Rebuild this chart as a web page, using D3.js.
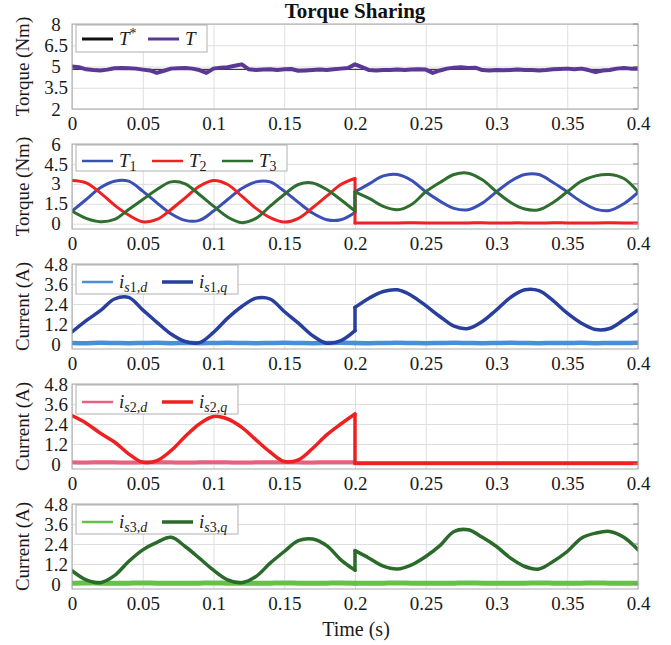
<!DOCTYPE html>
<html>
<head>
<meta charset="utf-8">
<script src="https://cdn.jsdelivr.net/npm/d3@7"></script>
<style>
  body { margin: 0; background: #fff; }
  svg text { font-family: "Liberation Serif", "Times New Roman", serif; }
</style>
</head>
<body>
<div id="chart"></div>
<script>
// sample times (0.01 s grid, the jump at 0.2 s appears twice)
const tGrid = [0, 0.01, 0.02, 0.03, 0.04, 0.05, 0.06, 0.07, 0.08, 0.09, 0.1, 0.11, 0.12, 0.13, 0.14, 0.15, 0.16, 0.17, 0.18, 0.19, 0.2,
  0.2, 0.21, 0.22, 0.23, 0.24, 0.25, 0.26, 0.27, 0.28, 0.29, 0.3, 0.31, 0.32, 0.33, 0.34, 0.35, 0.36, 0.37, 0.38, 0.39, 0.4]
const tFine = d3.range(81).map(i => +(i * 0.005).toFixed(3))

const xTicks = [0, 0.05, 0.1, 0.15, 0.2, 0.25, 0.3, 0.35, 0.4]
const torqueTicks = [2, 3.5, 5, 6.5, 8]
const phaseTorqueTicks = [0, 1.5, 3, 4.5, 6]
const currentTicks = [0, 1.2, 2.4, 3.6, 4.8]

// total torque
const torqueRefTime = [0, 0.4]
const torqueRef = [4.8, 4.8]
const torque = [5.0, 4.95, 4.8, 4.75, 4.72, 4.78, 4.88, 4.9, 4.88, 4.85, 4.78, 4.72, 4.55, 4.7, 4.85, 4.88, 4.9, 4.85, 4.75, 4.55,
  4.85, 4.92, 4.95, 5.05, 5.15, 4.8, 4.75, 4.78, 4.8, 4.75, 4.8, 4.82, 4.7, 4.72, 4.75, 4.78, 4.75, 4.8, 4.85, 4.9,
  5.15, 4.95, 4.75, 4.72, 4.75, 4.75, 4.78, 4.75, 4.78, 4.8, 4.78, 4.55, 4.72, 4.85, 4.92, 4.95, 4.9, 4.92, 4.75, 4.72,
  4.75, 4.73, 4.75, 4.78, 4.75, 4.75, 4.72, 4.75, 4.8, 4.82, 4.85, 4.8, 4.85, 4.75, 4.6, 4.72, 4.75, 4.85, 4.9, 4.85, 4.85]

// phase torques
const torqueT1 = [0.95, 1.82, 2.7, 3.2, 3.2, 2.45, 1.57, 0.75, 0.25, 0.25, 0.95, 1.82, 2.65, 3.15, 3.15, 2.45, 1.6, 0.8, 0.3, 0.3, 0.85,
  2.4, 3.0, 3.6, 3.7, 3.25, 2.4, 1.7, 1.15, 1.05, 1.55, 2.4, 3.2, 3.7, 3.7, 3.1, 2.4, 1.65, 1.1, 1.0, 1.5, 2.35]
const torqueT2 = [3.25, 3.07, 2.32, 1.4, 0.65, 0.15, 0.32, 1.07, 1.95, 2.82, 3.25, 2.95, 2.07, 1.15, 0.45, 0.12, 0.4, 1.2, 2.07, 2.95, 3.4,
  0.06, 0.06, 0.05, 0.06, 0.07, 0.06, 0.05, 0.06, 0.06, 0.07, 0.05, 0.06, 0.06, 0.05, 0.07, 0.06, 0.05, 0.06, 0.07, 0.06, 0.06]
const torqueT3 = [0.95, 0.4, 0.15, 0.32, 1.07, 1.82, 2.57, 3.15, 3.0, 2.2, 1.32, 0.5, 0.08, 0.4, 1.32, 2.2, 2.95, 3.07, 2.57, 1.8, 0.95,
  2.4, 1.9, 1.3, 1.05, 1.45, 2.4, 3.1, 3.7, 3.8, 3.3, 2.4, 1.6, 1.1, 1.05, 1.6, 2.4, 3.2, 3.6, 3.7, 3.4, 2.4]

// phase currents
const is1d = [0.06, 0.05, 0.07, 0.06, 0.05, 0.06, 0.07, 0.05, 0.06, 0.05, 0.06, 0.07, 0.06, 0.05, 0.06, 0.07, 0.06, 0.05, 0.06, 0.07, 0.06,
  0.06, 0.05, 0.06, 0.07, 0.06, 0.05, 0.06, 0.07, 0.06, 0.05, 0.06, 0.07, 0.06, 0.05, 0.06, 0.06, 0.07, 0.05, 0.06, 0.06, 0.07]
const is1q = [0.72, 1.4, 2.0, 2.7, 2.8, 2.05, 1.3, 0.6, 0.15, 0.08, 0.7, 1.55, 2.25, 2.75, 2.7, 1.95, 1.25, 0.5, 0.05, 0.2, 0.8,
  2.2, 2.75, 3.15, 3.25, 2.9, 2.3, 1.65, 1.07, 0.93, 1.35, 2.05, 2.8, 3.25, 3.2, 2.6, 1.85, 1.25, 0.87, 0.93, 1.45, 2.05]
const is2d = [0.1, 0.09, 0.11, 0.1, 0.09, 0.1, 0.11, 0.1, 0.09, 0.1, 0.11, 0.1, 0.09, 0.1, 0.11, 0.1, 0.1, 0.09, 0.11, 0.1, 0.1,
  0.04, 0.04, 0.05, 0.04, 0.04, 0.05, 0.04, 0.04, 0.05, 0.04, 0.04, 0.04, 0.05, 0.04, 0.04, 0.05, 0.04, 0.04, 0.05, 0.04, 0.04]
const is2q = [2.9, 2.45, 1.85, 1.32, 0.61, 0.1, 0.2, 0.8, 1.65, 2.4, 2.85, 2.7, 2.2, 1.45, 0.72, 0.15, 0.25, 0.93, 1.75, 2.4, 3.0,
  0.04, 0.04, 0.05, 0.04, 0.04, 0.05, 0.04, 0.04, 0.05, 0.04, 0.04, 0.04, 0.05, 0.04, 0.04, 0.05, 0.04, 0.04, 0.05, 0.04, 0.04]
const is3d = [0.05, 0.06, 0.05, 0.04, 0.05, 0.06, 0.05, 0.05, 0.04, 0.05, 0.06, 0.05, 0.05, 0.04, 0.05, 0.06, 0.05, 0.04, 0.05, 0.06, 0.05,
  0.05, 0.04, 0.05, 0.06, 0.05, 0.05, 0.04, 0.05, 0.06, 0.05, 0.04, 0.05, 0.05, 0.06, 0.05, 0.04, 0.05, 0.06, 0.05, 0.05, 0.04]
const is3q = [0.8, 0.25, 0.08, 0.5, 1.35, 2.05, 2.5, 2.8, 2.25, 1.55, 0.83, 0.25, 0.08, 0.45, 1.25, 1.95, 2.6, 2.7, 2.3, 1.45, 0.83,
  2.0, 1.55, 1.07, 0.9, 1.15, 1.65, 2.3, 3.15, 3.25, 2.8, 2.25, 1.55, 1.05, 0.9, 1.35, 1.95, 2.75, 3.05, 3.15, 2.8, 2.05]

const font = '"Liberation Serif", "Times New Roman", serif'
const width = 671
const height = 645
const left = 72
const right = 638
const panelH = 85

// legend label pieces: i = italic, sub / sup = script
const T = (s) => ({ t: s, i: true })
const panels = [
  { top: 24, domain: [2, 8], ticks: torqueTicks, label: 'Torque (Nm)',
    series: [
      { t: torqueRefTime, v: torqueRef, color: '#111111', w: 1 },
      { t: tFine, v: torque, color: '#5b3896', w: 4 }
    ],
    legend: { w: 131, h: 27, ly: 14, items: [
      { x: 6, color: '#111111', w: 3, parts: [T('T'), { t: '*', sup: true }] },
      { x: 72, color: '#5b3896', w: 3, parts: [T('T')] }
    ] } },
  { top: 144, domain: [-0.4, 6], ticks: phaseTorqueTicks, label: 'Torque (Nm)',
    series: [
      { t: tGrid, v: torqueT1, color: '#3a50b4', w: 3, jump: true },
      { t: tGrid, v: torqueT2, color: '#ee2222', w: 3, jump: true },
      { t: tGrid, v: torqueT3, color: '#2e6e2e', w: 3, jump: true }
    ],
    legend: { w: 211, h: 26, ly: 16, items: [
      { x: 6, color: '#3a50b4', w: 2.5, parts: [T('T'), { t: '1', sub: true }] },
      { x: 76, color: '#ee2222', w: 2.5, parts: [T('T'), { t: '2', sub: true }] },
      { x: 146, color: '#2e6e2e', w: 2.5, parts: [T('T'), { t: '3', sub: true }] }
    ] } }
]
const currentSets = [
  { top: 264, d: is1d, q: is1q, n: '1', cd: '#4a8ed8', cq: '#283f9e', wd: 4.5 },
  { top: 384, d: is2d, q: is2q, n: '2', cd: '#e8607f', cq: '#ee2020', wd: 4 },
  { top: 504, d: is3d, q: is3q, n: '3', cd: '#66c04a', cq: '#2a6a2a', wd: 5 }
]
currentSets.forEach(c => {
  panels.push({ top: c.top, domain: [-0.3, 4.8], ticks: currentTicks, label: 'Current (A)',
    series: [
      { t: tGrid, v: c.d, color: c.cd, w: c.wd, jump: true },
      { t: tGrid, v: c.q, color: c.cq, w: 3.5, jump: true }
    ],
    legend: { w: 162, h: 29, ly: 17, items: [
      { x: 6, color: c.cd, w: 2.5, parts: [T('i'), { t: 's', sub: true, i: true }, { t: c.n, sub: true }, { t: ',d', sub: true, i: true }] },
      { x: 86, color: c.cq, w: 3.5, parts: [T('i'), { t: 's', sub: true, i: true }, { t: c.n, sub: true }, { t: ',q', sub: true, i: true }] }
    ] } })
})

const svg = d3.select('#chart').append('svg')
  .attr('width', width)
  .attr('height', height)

const x = d3.scaleLinear().domain([0, 0.4]).range([left, right])

svg.append('text')
  .attr('x', 355)
  .attr('y', 18)
  .attr('text-anchor', 'middle')
  .attr('font-size', 21)
  .attr('font-weight', 'bold')
  .attr('fill', '#111')
  .text('Torque Sharing')

panels.forEach((p, k) => {
  const y = d3.scaleLinear().domain(p.domain).range([p.top + panelH, p.top])
  const g = svg.append('g')

  // grid + x labels
  const gx = g.append('g')
    .attr('transform', 'translate(0,' + (p.top + panelH) + ')')
    .call(d3.axisBottom(x).tickValues(xTicks).tickSize(-panelH).tickPadding(7.5).tickFormat(d => String(d)))
  gx.select('.domain').remove()
  gx.selectAll('line').attr('stroke', '#dedede')
  gx.selectAll('text').attr('font-size', 19).attr('fill', '#1a1a1a').style('font-family', font)

  const gy = g.append('g')
    .attr('transform', 'translate(' + left + ',0)')
    .call(d3.axisLeft(y).tickValues(p.ticks).tickSize(-(right - left)).tickFormat(d => String(d)))
  gy.select('.domain').remove()
  gy.selectAll('line').attr('stroke', '#dedede')
  gy.selectAll('text').attr('font-size', 19).attr('fill', '#1a1a1a').style('font-family', font)
    .attr('x', -16).attr('text-anchor', 'middle')

  // data lines
  svg.append('clipPath').attr('id', 'clip' + k)
    .append('rect').attr('x', left).attr('y', p.top).attr('width', right - left).attr('height', panelH)
  const lines = g.append('g').attr('clip-path', 'url(#clip' + k + ')')
  const smooth = d3.line().x(d => x(d[0])).y(d => y(d[1])).curve(d3.curveCatmullRom.alpha(0.5))
  const straight = d3.line().x(d => x(d[0])).y(d => y(d[1]))
  p.series.forEach(s => {
    const pts = s.t.map((t, i) => [t, s.v[i]])
    const pieces = s.jump
      ? [[pts.slice(0, 21), smooth], [pts.slice(20, 22), straight], [pts.slice(21), smooth]]
      : [[pts, straight]]
    pieces.forEach(([seg, gen]) => {
      lines.append('path')
        .attr('d', gen(seg))
        .attr('fill', 'none')
        .attr('stroke', s.color)
        .attr('stroke-width', s.w)
        .attr('stroke-linejoin', 'round')
        .attr('stroke-linecap', 'round')
    })
  })

  // legend
  const lx = left + 4
  const ly = p.top + 1
  const lg = g.append('g').attr('transform', 'translate(' + lx + ',' + ly + ')')
  lg.append('rect')
    .attr('width', p.legend.w)
    .attr('height', p.legend.h)
    .attr('fill', '#fff')
    .attr('stroke', '#b0b0b0')
  p.legend.items.forEach(it => {
    lg.append('line')
      .attr('x1', it.x).attr('x2', it.x + 31)
      .attr('y1', p.legend.ly).attr('y2', p.legend.ly)
      .attr('stroke', it.color)
      .attr('stroke-width', it.w)
    const txt = lg.append('text')
      .attr('x', it.x + 37)
      .attr('y', p.legend.ly + 6)
      .attr('font-size', 19)
      .attr('fill', '#1a1a1a')
    let shifted = false
    it.parts.forEach(pt => {
      const ts = txt.append('tspan').text(pt.t)
        .attr('font-style', pt.i ? 'italic' : 'normal')
      if (pt.sub || pt.sup) ts.attr('font-size', 14)
      if (pt.sub && !shifted) { ts.attr('dy', 4); shifted = true }
      if (pt.sup && !shifted) { ts.attr('dy', -7); shifted = true }
    })
  })

  // frame and inner ticks
  g.append('rect')
    .attr('x', left).attr('y', p.top)
    .attr('width', right - left).attr('height', panelH)
    .attr('fill', 'none')
    .attr('stroke', '#a8a8a8')
  p.ticks.forEach(v => {
    g.append('line').attr('x1', right - 5).attr('x2', right).attr('y1', y(v)).attr('y2', y(v)).attr('stroke', '#8a8a8a')
  })

  // y label
  g.append('text')
    .attr('transform', 'translate(29,' + (p.top + panelH / 2) + ') rotate(-90)')
    .attr('text-anchor', 'middle')
    .attr('font-size', 19)
    .attr('fill', '#1a1a1a')
    .text(p.label)
})

svg.append('text')
  .attr('x', 356)
  .attr('y', 636)
  .attr('text-anchor', 'middle')
  .attr('font-size', 20)
  .attr('fill', '#1a1a1a')
  .text('Time (s)')
</script>
</body>
</html>
